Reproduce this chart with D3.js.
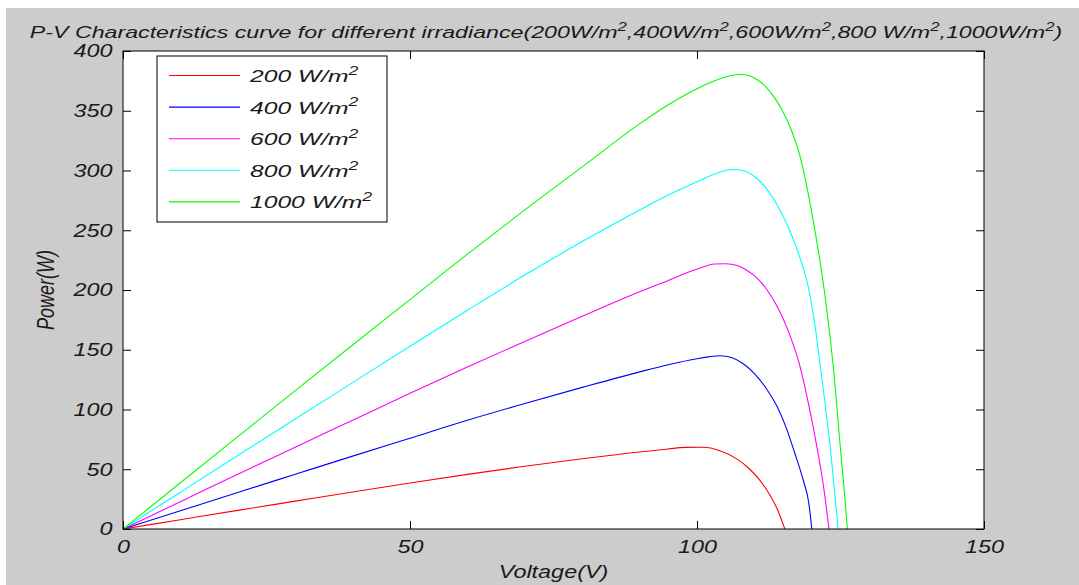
<!DOCTYPE html>
<html>
<head>
<meta charset="utf-8">
<script src="https://cdn.jsdelivr.net/npm/d3@7"></script>
<style>
	body { margin: 0; background: #ffffff; }
	svg { display: block; }
</style>
</head>
<body>
<div id="pvChart"><svg></svg></div>
<script>

// irradiance series
var seriesNames = ["200 W/m^2", "400 W/m^2", "600 W/m^2", "800 W/m^2", "1000 W/m^2"];
var seriesColors = ["#ff0000", "#0000ff", "#ff00ff", "#00ffff", "#00ff00"];

var voltage200 = [0, 10, 20, 30, 40, 50, 60, 70, 80, 90, 95, 98, 101, 104, 107, 109.2, 111, 112.7, 114, 115.3];
var power200 = [0, 7.8, 15.6, 23.3, 31, 38.5, 45.7, 52.5, 58.8, 64.5, 67, 68.3, 68.4, 65.5, 58.5, 50, 40.5, 28.5, 16.5, 0];

var voltage400 = [0, 10, 20, 30, 40, 50, 60, 70, 80, 90, 95, 100, 102, 104, 106, 108, 110, 112, 114, 115.6, 117, 118.5, 119.5, 120];
var power400 = [0, 15.3, 30.6, 45.8, 61, 76, 91, 105, 118.5, 131.5, 137.5, 142.5, 144, 145, 143.5, 138.5, 130, 118, 102, 84, 64, 41, 21, 0];

var voltage600 = [0, 10, 20, 30, 40, 50, 60, 70, 80, 90, 95, 98, 101, 103, 105, 107, 108.5, 110, 112, 114, 116, 118, 119.5, 120.8, 122, 123];
var power600 = [0, 22.9, 45.8, 68.5, 91, 113.5, 135.5, 157, 178, 198.5, 208, 214, 219, 221.8, 222, 220.5, 217, 212, 201.5, 186, 164.5, 135, 103, 71, 37, 0];

var voltage800 = [0, 10, 20, 30, 40, 50, 60, 70, 80, 90, 95, 100, 102, 104, 106, 108, 110, 112, 114, 116, 118, 119.5, 120.5, 121.7, 123.2, 124.6];
var power800 = [0, 30.8, 61.5, 92, 122.5, 153, 183, 212.5, 240.5, 267, 279.5, 290.5, 295, 298.6, 300.8, 300, 295, 285.5, 271, 251.5, 226, 200, 172, 128, 69, 0];

var voltage1000 = [0, 10, 20, 30, 40, 50, 60, 70, 80, 90, 95, 100, 102, 104, 106, 107.5, 109, 110.5, 112, 113.5, 115, 116.5, 118, 119.4, 120.5, 121.5, 122.5, 123.2, 123.9, 124.9, 125.6, 126.2];
var power1000 = [0, 38.7, 77.3, 115.8, 154, 192, 230, 267, 303, 339, 355, 368.5, 373, 376.8, 379.5, 380.3, 379.5, 376, 370, 361, 349, 333, 311, 280, 251, 222, 188, 160, 128, 72, 35, 0];

var xTicks = [0, 50, 100, 150];
var yTicks = [0, 50, 100, 150, 200, 250, 300, 350, 400];

var chartTitle = "P-V Characteristics curve for different irradiance(200W/m^2,400W/m^2,600W/m^2,800 W/m^2,1000W/m^2)";
var xLabel = "Voltage(V)";
var yLabel = "Power(W)";

var voltages = [voltage200, voltage400, voltage600, voltage800, voltage1000];
var powers = [power200, power400, power600, power800, power1000];


var width = 1079,
	height = 585,
	plotLeft = 123,
	plotRight = 984,
	plotTop = 51,
	plotBottom = 529,
	stretchX = 1.3,
	fontFamily = "'Liberation Sans', Arial, Helvetica, sans-serif";

var svg = d3.select('#pvChart').select('svg')
	.attr('width', width)
	.attr('height', height);

// figure background (a thin white strip is left at top/left like the screenshot)
svg.append('rect')
	.attr('x', 6).attr('y', 8)
	.attr('width', width - 6).attr('height', height - 8)
	.attr('fill', '#cccccc');

svg.append('rect')
	.attr('x', plotLeft).attr('y', plotTop)
	.attr('width', plotRight - plotLeft).attr('height', plotBottom - plotTop)
	.attr('fill', '#ffffff');

var x = d3.scaleLinear().domain([0, 150]).range([plotLeft, plotRight]);
var y = d3.scaleLinear().domain([0, 400]).range([plotBottom, plotTop]);

// writes "W/m^2" style strings with a raised 2
function richText(textSel, str, size) {
	var parts = str.split('^');
	textSel.append('tspan').text(parts[0]);
	for (var i = 1; i < parts.length; i++) {
		textSel.append('tspan')
			.attr('dy', -size * 0.42)
			.attr('font-size', size * 0.72)
			.text(parts[i].charAt(0));
		textSel.append('tspan')
			.attr('dy', size * 0.42)
			.text(parts[i].substring(1));
	}
	return textSel;
}

function styleTicks(g) {
	g.select('.domain').remove();
	g.selectAll('line').attr('stroke', '#000');
	g.selectAll('text')
		.attr('fill', '#1a1a1a')
		.attr('font-family', fontFamily)
		.attr('font-style', 'italic')
		.attr('font-size', '18px');
}

// curves
var line = d3.line()
	.x(function(d) { return x(d[0]); })
	.y(function(d) { return y(d[1]); })
	.curve(d3.curveMonotoneX);

var curves = svg.append('g');
voltages.forEach(function(v, i) {
	var pts = v.map(function(val, j) { return [val, powers[i][j]]; });
	curves.append('path')
		.datum(pts)
		.attr('d', line)
		.attr('fill', 'none')
		.attr('stroke', seriesColors[i])
		.attr('stroke-width', 1.1);
});

// axes: ticks point inward on all four sides
var bottomAxis = svg.append('g')
	.attr('transform', 'translate(0,' + plotBottom + ')')
	.call(d3.axisBottom(x).tickValues(xTicks).tickSizeInner(-8).tickSizeOuter(0).tickPadding(11));
styleTicks(bottomAxis);
bottomAxis.selectAll('text').attr('transform', 'scale(' + stretchX + ',1)');

var leftAxis = svg.append('g')
	.attr('transform', 'translate(' + plotLeft + ',0)')
	.call(d3.axisLeft(y).tickValues(yTicks).tickSizeInner(-8).tickSizeOuter(0).tickPadding(0));
styleTicks(leftAxis);
leftAxis.selectAll('text')
	.attr('x', -8)
	.attr('transform', 'scale(' + stretchX + ',1)');

var topAxis = svg.append('g')
	.attr('transform', 'translate(0,' + plotTop + ')')
	.call(d3.axisTop(x).tickValues(xTicks).tickFormat('').tickSizeInner(-8).tickSizeOuter(0));
styleTicks(topAxis);

var rightAxis = svg.append('g')
	.attr('transform', 'translate(' + plotRight + ',0)')
	.call(d3.axisRight(y).tickValues(yTicks).tickFormat('').tickSizeInner(-8).tickSizeOuter(0));
styleTicks(rightAxis);

svg.append('rect')
	.attr('x', plotLeft).attr('y', plotTop)
	.attr('width', plotRight - plotLeft).attr('height', plotBottom - plotTop)
	.attr('fill', 'none')
	.attr('stroke', '#000')
	.attr('stroke-width', 1);

// title and axis labels
var title = svg.append('text')
	.attr('transform', 'translate(546,38) scale(1.365,1)')
	.attr('text-anchor', 'middle')
	.attr('font-family', fontFamily)
	.attr('font-style', 'italic')
	.attr('font-size', '17px')
	.attr('fill', '#1a1a1a');
richText(title, chartTitle, 17);

svg.append('text')
	.attr('transform', 'translate(' + (plotLeft + plotRight) / 2 + ',578) scale(' + stretchX + ',1)')
	.attr('text-anchor', 'middle')
	.attr('font-family', fontFamily)
	.attr('font-style', 'italic')
	.attr('font-size', '18px')
	.attr('fill', '#1a1a1a')
	.text(xLabel);

svg.append('text')
	.attr('transform', 'translate(54,' + (plotTop + plotBottom) / 2 + ') scale(' + stretchX + ',1) rotate(-90)')
	.attr('text-anchor', 'middle')
	.attr('font-family', fontFamily)
	.attr('font-style', 'italic')
	.attr('font-size', '18px')
	.attr('fill', '#1a1a1a')
	.text(yLabel);

// legend
var legendX = 157, legendY = 56, legendW = 230, legendH = 166, rowGap = 31.6;

var legend = svg.append('g');
legend.append('rect')
	.attr('x', legendX).attr('y', legendY)
	.attr('width', legendW).attr('height', legendH)
	.attr('fill', '#ffffff')
	.attr('stroke', '#000')
	.attr('stroke-width', 1);

seriesNames.forEach(function(name, i) {
	var ly = legendY + 19.5 + i * rowGap;
	legend.append('line')
		.attr('x1', legendX + 12).attr('x2', legendX + 83)
		.attr('y1', ly).attr('y2', ly)
		.attr('stroke', seriesColors[i])
		.attr('stroke-width', 1.1);
	var t = legend.append('text')
		.attr('transform', 'translate(' + (legendX + 93) + ',' + (ly + 6.5) + ') scale(1.45,1)')
		.attr('font-family', fontFamily)
		.attr('font-style', 'italic')
		.attr('font-size', '17px')
		.attr('fill', '#1a1a1a');
	richText(t, name, 17);
});

</script>
</body>
</html>
